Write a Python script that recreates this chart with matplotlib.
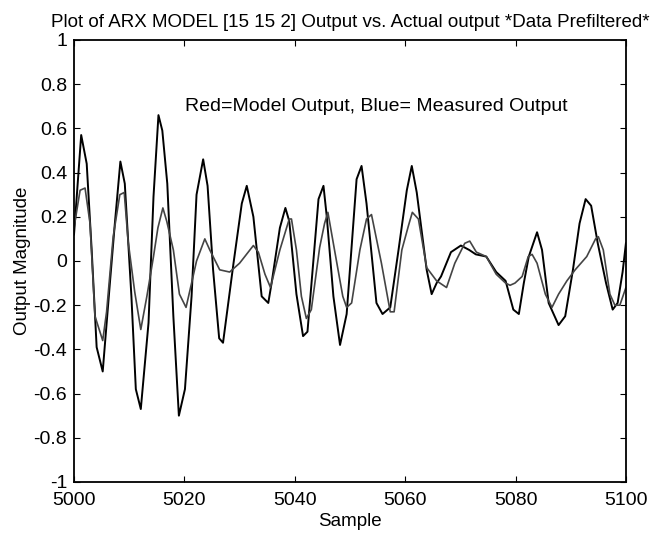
import matplotlib
matplotlib.use("Agg")
import matplotlib.pyplot as plt

# sample offsets (from 5000) and values
meas_x = [0, 1.3, 2.3, 3.2, 4.1, 5.2, 6.5, 7.4, 8.4, 9.2, 10.4, 11.2, 12.1, 13.5,
          14.4, 15.3, 16.0, 16.9, 18.0, 19.0, 20.1, 21.3, 22.2, 23.4, 24.2, 25.2,
          26.3, 27.0, 28.9, 30.4, 31.3, 32.5, 34.0, 35.2, 35.8, 37.3, 38.3, 39.0,
          40.3, 41.5, 42.3, 44.3, 45.2, 45.8, 47.0, 48.2, 49.4, 51.2, 52.1, 53.0,
          54.8, 55.9, 57.3, 58.8, 60.3, 61.2, 62.1, 63.9, 64.8, 65.7, 66.5, 68.3,
          70.1, 71.6, 72.8, 74.7, 76.5, 78.2, 79.6, 80.6, 81.5, 82.4, 83.9, 84.8,
          86.0, 87.8, 89.0, 90.4, 91.6, 92.7, 93.7, 94.9, 96.4, 97.6, 98.5, 99.4, 100]
meas_y = [0.12, 0.57, 0.44, 0.05, -0.39, -0.50, -0.10, 0.17, 0.45, 0.35, -0.16, -0.58,
          -0.67, -0.28, 0.29, 0.66, 0.59, 0.35, -0.25, -0.70, -0.58, -0.16, 0.30, 0.46,
          0.34, -0.04, -0.35, -0.37, -0.01, 0.26, 0.34, 0.20, -0.16, -0.19, -0.10, 0.15,
          0.24, 0.18, -0.15, -0.34, -0.32, 0.28, 0.34, 0.20, -0.16, -0.38, -0.24, 0.37,
          0.43, 0.26, -0.19, -0.24, -0.21, 0.05, 0.32, 0.43, 0.31, -0.04, -0.15, -0.10,
          -0.07, 0.04, 0.07, 0.05, 0.03, 0.02, -0.05, -0.09, -0.22, -0.24, -0.10, 0.02,
          0.13, 0.05, -0.19, -0.29, -0.25, -0.04, 0.17, 0.28, 0.25, 0.08, -0.10, -0.22,
          -0.19, -0.05, 0.08]

model_x = [0, 1.1, 2.0, 2.9, 3.8, 5.2, 5.9, 7.1, 8.3, 9.1, 9.8, 11.0, 12.1, 13.2,
           14.4, 15.2, 16.1, 16.8, 18.0, 19.1, 20.3, 21.3, 22.2, 23.7, 24.6, 26.4,
           28.2, 30.0, 32.5, 33.4, 34.6, 35.6, 37.3, 39.0, 39.4, 40.3, 41.2, 42.1,
           43.0, 44.5, 45.4, 46.0, 47.2, 48.7, 49.4, 50.3, 51.8, 53.0, 53.9, 55.7,
           57.3, 58.0, 59.4, 60.6, 61.3, 62.4, 63.9, 65.7, 67.5, 69.0, 70.8, 71.7,
           72.9, 74.7, 76.5, 78.2, 79.0, 79.9, 81.2, 82.3, 83.0, 83.9, 85.4, 86.6,
           87.8, 89.3, 90.8, 92.9, 94.5, 95.0, 95.9, 97.1, 98.0, 98.9, 100]
model_y = [0.15, 0.32, 0.33, 0.17, -0.25, -0.36, -0.23, 0.11, 0.30, 0.31, 0.09, -0.14,
           -0.31, -0.16, 0.02, 0.15, 0.24, 0.18, 0.05, -0.15, -0.21, -0.10, 0.00, 0.10,
           0.05, -0.04, -0.05, -0.01, 0.07, 0.04, -0.06, -0.12, 0.05, 0.19, 0.19, 0.05,
           -0.16, -0.26, -0.22, 0.06, 0.17, 0.22, 0.05, -0.16, -0.21, -0.19, 0.05, 0.19,
           0.21, -0.01, -0.23, -0.23, 0.05, 0.16, 0.22, 0.19, -0.03, -0.09, -0.12, -0.01,
           0.08, 0.09, 0.04, 0.02, -0.06, -0.10, -0.11, -0.10, -0.07, 0.02, 0.03, -0.01,
           -0.15, -0.21, -0.15, -0.09, -0.04, 0.02, 0.10, 0.11, 0.05, -0.15, -0.20, -0.20,
           -0.12]

START = 5000
x_ticks = [5000, 5020, 5040, 5060, 5080, 5100]
y_ticks = [-1, -0.8, -0.6, -0.4, -0.2, 0, 0.2, 0.4, 0.6, 0.8, 1]
y_labels = ["-1", "-0.8", "-0.6", "-0.4", "-0.2", "0", "0.2", "0.4", "0.6", "0.8", "1"]

plt.rcParams["font.family"] = ["Liberation Sans", "DejaVu Sans"]

fig = plt.figure(figsize=(6.68, 5.38), dpi=100)
ax = fig.add_axes([0.1108, 0.1041, 0.8262, 0.8216])

ax.plot([START + v for v in meas_x], meas_y, color="black", lw=1.4)
ax.plot([START + v for v in model_x], model_y, color="#444444", lw=1.2)

ax.set_xlim(5000, 5100)
ax.set_ylim(-1, 1)
ax.set_xticks(x_ticks)
ax.set_yticks(y_ticks)
ax.set_yticklabels(y_labels)
ax.tick_params(direction="in", top=True, right=True, labelsize=14, length=4)
ax.tick_params(axis="x", pad=7)
ax.tick_params(axis="y", pad=5)
for s in ax.spines.values():
    s.set_linewidth(1.3)

ax.text(5020.1, 0.70, "Red=Model Output, Blue= Measured Output", fontsize=14,
        va="center", ha="left")
ax.set_title("Plot of ARX MODEL [15 15 2] Output vs. Actual output *Data Prefiltered*",
             fontsize=13.5, pad=9)
ax.set_xlabel("Sample", fontsize=13.5, labelpad=3)
ax.set_ylabel("Output Magnitude", fontsize=13.5, labelpad=2)

fig.savefig("out.png", dpi=100)
